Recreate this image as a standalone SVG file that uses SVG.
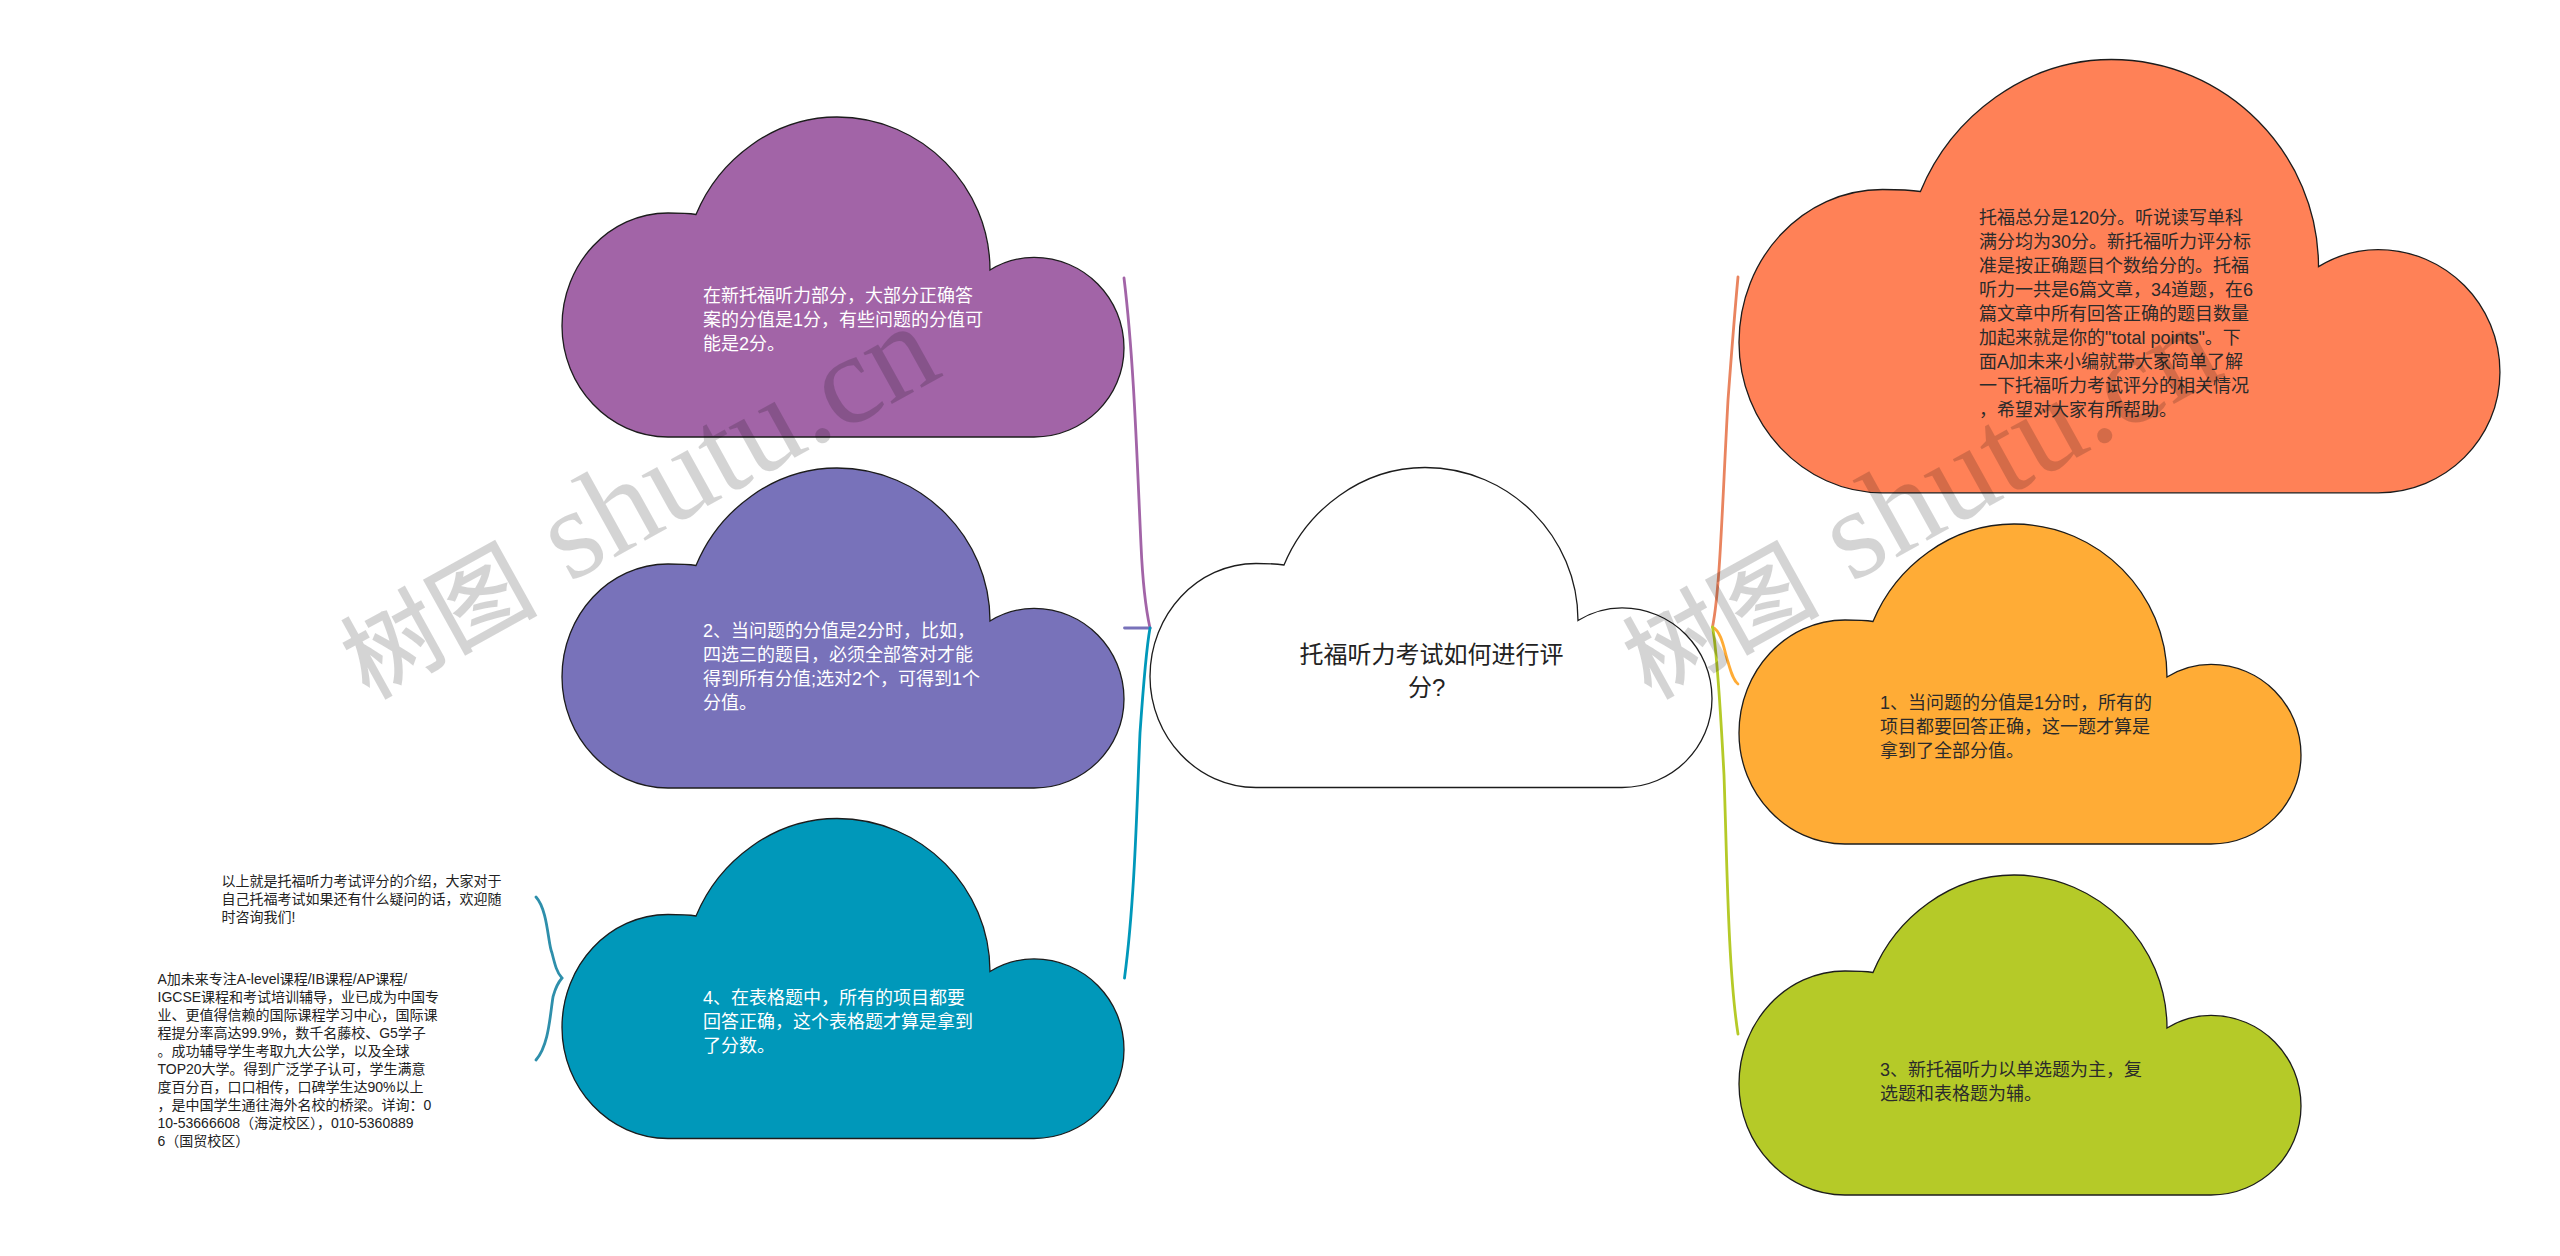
<svg xmlns="http://www.w3.org/2000/svg" width="2560" height="1256" viewBox="0 0 2560 1256">
<style>
text{font-family:"Liberation Sans","Noto Sans CJK SC",sans-serif}
.cloud{stroke:#1c1c1c;stroke-width:1.3;vector-effect:non-scaling-stroke}
.t18{font-size:18px}
.t14{font-size:14px;fill:#222}
.w{fill:#fff}
.d{fill:#2b2b2b}
.c{fill:none;stroke-width:2.8;stroke-linecap:round}
.wm{font-family:"Liberation Serif","Noto Sans CJK SC",serif;fill:#000;fill-opacity:.17}
.wa{font-size:98px;font-weight:500}
.wb{font-size:128px}
</style>
<defs>
<path id="cloud" class="cloud" d="M134 97.500C157 42 212 0 275 0C360 0 428 70 428 153C441 145 456 140.400 472 140.400C522 140.400 562 181 562 231C562 280 522 320 472 320L106 320C47 320 0 269 0 209C0 147 47 96 106 96C116 96 125 96 134 97.500Z"/>
</defs>
<rect width="2560" height="1256" fill="#fff"/>
<g id="connectors">
<path class="c" stroke="#A264A7" d="M1124 278C1134 360 1137 460 1141 545C1143 590 1146 610 1150 628"/>
<path class="c" stroke="#7872BA" d="M1124.500 628L1150 628"/>
<path class="c" stroke="#0098BA" d="M1150 628C1146 650 1143 690 1140 733C1137 800 1135 900 1124.500 978"/>
<path class="c" stroke="#E9845F" d="M1712.500 627C1720 590 1722 510 1728 400C1731 360 1734 320 1738 277"/>
<path class="c" stroke="#FFAC36" d="M1712.500 627C1722 632 1724 650 1728 662C1731 672 1733 680 1738 684"/>
<path class="c" stroke="#B5CA28" d="M1712.500 627C1717 650 1720 700 1724 775C1727 860 1728 970 1738 1034"/>
<path class="c" stroke="#2E8FAB" d="M536 897C548 910 548 945 552 953C555 965 557 973 562 978C556 985 555 990 553 997C550 1015 549 1045 536 1060"/>
</g>
<g id="node-root">
<use href="#cloud" x="1150" y="467.500" fill="#fff"/>
<text x="1299.500" y="663" font-size="24" fill="#222">托福听力考试如何进行评</text>
<text x="1408" y="696" font-size="24" fill="#222">分?</text>
</g>
<g id="node-purple">
<use href="#cloud" x="562" y="117" fill="#A264A7"/>
<g class="t18 w">
<text x="703" y="302">在新托福听力部分&#65292;大部分正确答</text>
<text x="703" y="326">案的分值是1分&#65292;有些问题的分值可</text>
<text x="703" y="350">能是2分。</text>
</g>
</g>
<g id="node-indigo">
<use href="#cloud" x="562" y="468" fill="#7872BA"/>
<g class="t18 w">
<text x="703" y="637">2、当问题的分值是2分时&#65292;比如&#65292;</text>
<text x="703" y="661">四选三的题目&#65292;必须全部答对才能</text>
<text x="703" y="685">得到所有分值;选对2个&#65292;可得到1个</text>
<text x="703" y="709">分值。</text>
</g>
</g>
<g id="node-teal">
<use href="#cloud" x="562" y="818.500" fill="#0098BA"/>
<g class="t18 w">
<text x="703" y="1004">4、在表格题中&#65292;所有的项目都要</text>
<text x="703" y="1028">回答正确&#65292;这个表格题才算是拿到</text>
<text x="703" y="1052">了分数。</text>
</g>
</g>
<g id="node-orange">
<use href="#cloud" transform="translate(1739 59.500) scale(1.354)" fill="#FF8157"/>
<g class="t18 d">
<text x="1979" y="224">托福总分是120分。听说读写单科</text>
<text x="1979" y="248">满分均为30分。新托福听力评分标</text>
<text x="1979" y="272">准是按正确题目个数给分的。托福</text>
<text x="1979" y="296">听力一共是6篇文章&#65292;34道题&#65292;在6</text>
<text x="1979" y="320">篇文章中所有回答正确的题目数量</text>
<text x="1979" y="344">加起来就是你的"total points"。下</text>
<text x="1979" y="368">面A加未来小编就带大家简单了解</text>
<text x="1979" y="392">一下托福听力考试评分的相关情况</text>
<text x="1979" y="416">&#65292;希望对大家有所帮助。</text>
</g>
</g>
<g id="node-amber">
<use href="#cloud" x="1739" y="524" fill="#FFAC36"/>
<g class="t18 d">
<text x="1880" y="709">1、当问题的分值是1分时&#65292;所有的</text>
<text x="1880" y="733">项目都要回答正确&#65292;这一题才算是</text>
<text x="1880" y="757">拿到了全部分值。</text>
</g>
</g>
<g id="node-green">
<use href="#cloud" x="1739" y="875" fill="#B5CA28"/>
<g class="t18 d">
<text x="1880" y="1076">3、新托福听力以单选题为主&#65292;复</text>
<text x="1880" y="1100">选题和表格题为辅。</text>
</g>
</g>
<g id="note-closing" class="t14">
<text x="221.500" y="886">以上就是托福听力考试评分的介绍&#65292;大家对于</text>
<text x="221.500" y="904">自己托福考试如果还有什么疑问的话&#65292;欢迎随</text>
<text x="221.500" y="922">时咨询我们!</text>
</g>
<g id="note-about" class="t14">
<text x="157.500" y="984">A加未来专注A-level课程/IB课程/AP课程/</text>
<text x="157.500" y="1002">IGCSE课程和考试培训辅导&#65292;业已成为中国专</text>
<text x="157.500" y="1020">业、更值得信赖的国际课程学习中心&#65292;国际课</text>
<text x="157.500" y="1038">程提分率高达99.9%&#65292;数千名藤校、G5学子</text>
<text x="157.500" y="1056">。成功辅导学生考取九大公学&#65292;以及全球</text>
<text x="157.500" y="1074">TOP20大学。得到广泛学子认可&#65292;学生满意</text>
<text x="157.500" y="1092">度百分百&#65292;口口相传&#65292;口碑学生达90%以上</text>
<text x="157.500" y="1110">&#65292;是中国学生通往海外名校的桥梁。详询&#65306;0</text>
<text x="157.500" y="1128">10-53666608&#65288;海淀校区&#65289;&#65292;010-5360889</text>
<text x="157.500" y="1146">6&#65288;国贸校区&#65289;</text>
</g>
<g id="watermarks">
<text class="wm" transform="translate(569 583) rotate(-29)"><tspan class="wa" x="-232" y="5">树图</tspan><tspan class="wb" x="0" y="0">shutu.cn</tspan></text>
<text class="wm" transform="translate(1851 583) rotate(-29)"><tspan class="wa" x="-232" y="5">树图</tspan><tspan class="wb" x="0" y="0">shutu.cn</tspan></text>
</g>
</svg>
